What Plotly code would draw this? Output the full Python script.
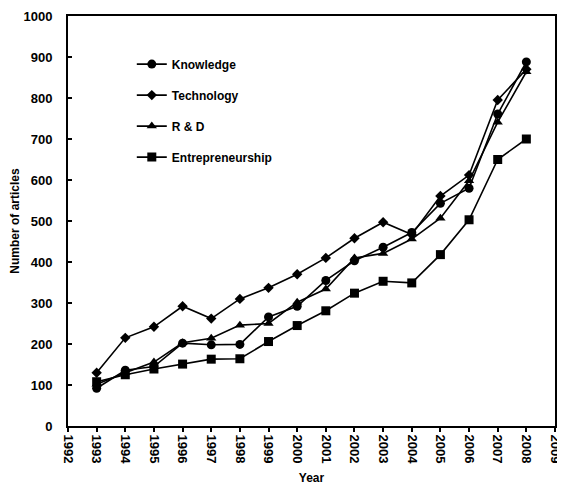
import plotly.graph_objects as go

years = list(range(1993, 2009))
knowledge = [92, 136, 145, 202, 198, 199, 266, 292, 355, 403, 436, 472, 543, 580, 761, 888]
technology = [130, 215, 242, 292, 262, 310, 337, 370, 410, 458, 497, 467, 561, 612, 795, 870]
rnd = [102, 130, 156, 203, 214, 246, 250, 302, 334, 410, 421, 456, 507, 598, 741, 864]
entrepreneurship = [108, 125, 139, 151, 163, 164, 206, 245, 281, 324, 353, 349, 418, 503, 650, 700]

series = [
    ("Knowledge", knowledge, "circle", 9),
    ("Technology", technology, "diamond", 8),
    ("R & D", rnd, "triangle-up", 9),
    ("Entrepreneurship", entrepreneurship, "square", 9),
]

FONT = "Liberation Sans"
fig = go.Figure()
for i, (name, vals, sym, sz) in enumerate(series):
    fig.add_trace(go.Scatter(
        x=years, y=vals, name=name, mode="lines+markers",
        line=dict(color="black", width=1.6),
        marker=dict(symbol=sym, size=sz, color="black"),
        legendgroup=f"g{i}",
    ))

# the page body has an 8px default margin, so the figure is sized to fit the window
fig.update_layout(
    width=557, height=477,
    margin=dict(l=60, r=10, t=8, b=59),
    paper_bgcolor="white", plot_bgcolor="white",
    font=dict(family=FONT, size=12, color="black"),
    showlegend=True,
    legend=dict(
        x=0.131, y=0.918, xanchor="left", yanchor="top",
        bgcolor="rgba(0,0,0,0)", tracegroupgap=12,
        font=dict(family=FONT, size=12, color="black", weight="bold"),
        itemwidth=30,
    ),
    xaxis=dict(
        range=[1992, 2009], dtick=1, tick0=1992,
        showgrid=False, zeroline=False,
        showline=True, linecolor="black", linewidth=2, mirror=True,
        ticks="outside", ticklen=4, tickcolor="black", tickwidth=1.5,
        tickangle=90, ticklabeloverflow="allow",
        tickfont=dict(family=FONT, size=13, color="black", weight="bold"),
        title=dict(text="<b>Year</b>", font=dict(family=FONT, size=12), standoff=12),
        automargin=False,
    ),
    yaxis=dict(
        range=[0, 1000], dtick=100,
        showgrid=False, zeroline=False,
        showline=True, linecolor="black", linewidth=2, mirror=True,
        ticks="inside", ticklen=4, tickcolor="black", tickwidth=1.5,
        ticklabelstandoff=11,
        tickfont=dict(family=FONT, size=13, color="black", weight="bold"),
        title=dict(text="<b>Number of articles</b>", font=dict(family=FONT, size=12), standoff=8),
        automargin=False,
    ),
)

fig.write_html("out.html")
